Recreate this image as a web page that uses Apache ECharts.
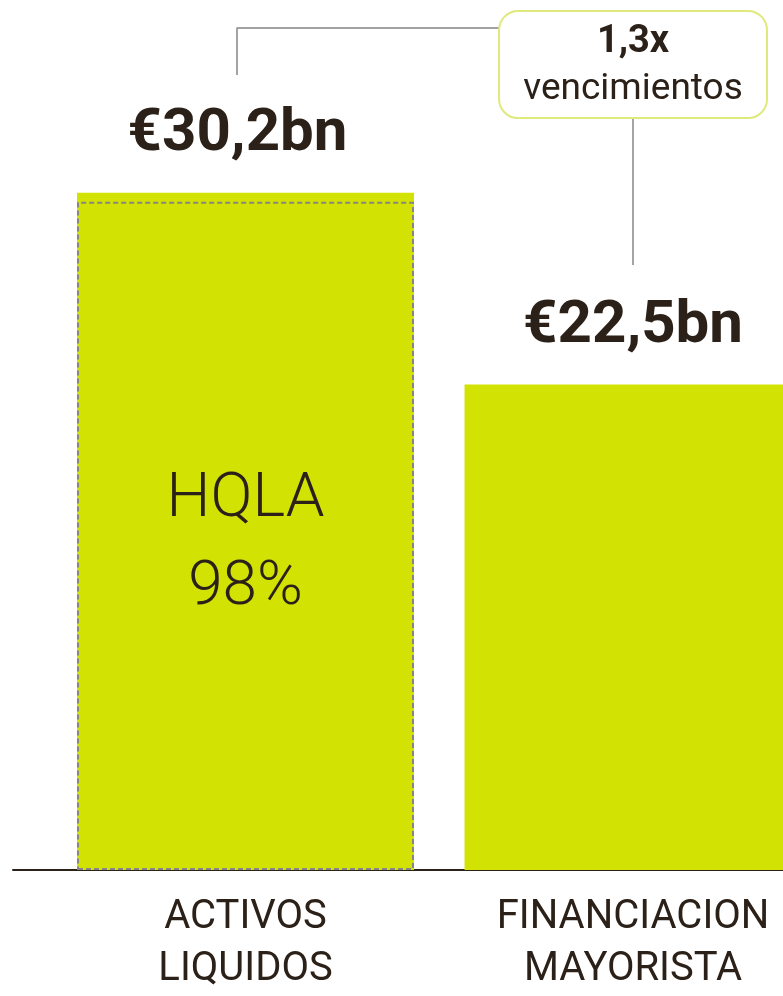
<!DOCTYPE html>
<html>
<head>
<meta charset="utf-8">
<script src="https://cdn.jsdelivr.net/npm/echarts@6/dist/echarts.min.js"></script>
<style>
  html, body { margin: 0; padding: 0; background: #fff; }
  #chart { width: 783px; height: 996px; }
</style>
</head>
<body>
<div id="chart"></div>
<script>
const categories = ['ACTIVOS\nLIQUIDOS', 'FINANCIACION\nMAYORISTA']
const barValues = [30.2, 21.65]
const valueLabels = ['€30,2bn', '€22,5bn']
const hqlaValue = 29.8
const hqlaLabel = 'HQLA\n98%'
const ratioValue = '1,3x'
const ratioText = 'vencimientos'

const GREEN = '#d2e203'
const INK = '#2b2118'
const FONT = 'Roboto, "Noto Sans", sans-serif'

const chart = echarts.init(document.getElementById('chart'), null, { renderer: 'canvas' })

chart.setOption({
  animation: false,
  grid: { left: 13, right: 0, top: 0, bottom: 126 },
  xAxis: {
    type: 'value',
    min: -0.6,
    max: 1.387,
    splitLine: { show: false },
    axisTick: { show: false },
    axisLine: { show: true, lineStyle: { color: INK, width: 2 } },
    axisLabel: {
      customValues: [0, 1],
      formatter: (v) => categories[Math.round(v)] ?? '',
      color: INK,
      fontFamily: FONT,
      fontSize: 40,
      lineHeight: 52,
      margin: 22
    }
  },
  yAxis: { type: 'value', min: 0, max: 38.8, show: false },
  series: [
    {
      type: 'bar',
      barWidth: 337,
      barGap: '-100%',
      data: barValues.map((v, i) => ({
        value: [i, v],
        label: i === 0 ? { offset: [-8, 0] } : undefined
      })),
      itemStyle: { color: GREEN },
      label: {
        show: true,
        position: 'top',
        distance: 27,
        formatter: (p) => valueLabels[p.dataIndex],
        color: INK,
        fontFamily: FONT,
        fontWeight: 'bold',
        fontSize: 60,
        lineHeight: 62
      }
    },
    {
      type: 'bar',
      barWidth: 337,
      barGap: '-100%',
      data: [[0, hqlaValue]],
      itemStyle: {
        color: 'rgba(0,0,0,0)',
        borderColor: '#858585',
        borderWidth: 2,
        borderType: [5, 3]
      },
      label: {
        show: true,
        position: 'inside',
        offset: [0, 9],
        formatter: hqlaLabel,
        color: INK,
        fontFamily: FONT,
        fontWeight: 300,
        fontSize: 62,
        lineHeight: 88
      }
    },
    {
      type: 'line',
      symbol: 'none',
      silent: true,
      lineStyle: { color: '#a3a3a3', width: 2 },
      data: [[-0.022, 35.45], [-0.022, 37.55], [0.657, 37.55]]
    },
    {
      type: 'line',
      symbol: 'none',
      silent: true,
      lineStyle: { color: '#a3a3a3', width: 2 },
      data: [[1.0, 33.54], [1.0, 26.98]],
      markPoint: {
        symbol: 'rect',
        symbolSize: 1,
        itemStyle: { color: 'rgba(0,0,0,0)' },
        data: [{ coord: [1.0, 35.92] }],
        label: {
          show: true,
          position: 'inside',
          formatter: '{b|' + ratioValue + '}\n{r|' + ratioText + '}',
          width: 226,
          align: 'center',
          padding: [6, 20, 3, 20],
          backgroundColor: '#fff',
          borderColor: '#dfe97c',
          borderWidth: 2,
          borderRadius: 18,
          rich: {
            b: { color: INK, fontFamily: FONT, fontWeight: 'bold', fontSize: 38, lineHeight: 48, align: 'center' },
            r: { color: INK, fontFamily: FONT, fontSize: 37, lineHeight: 48, align: 'center' }
          }
        }
      }
    }
  ]
})
</script>
</body>
</html>
